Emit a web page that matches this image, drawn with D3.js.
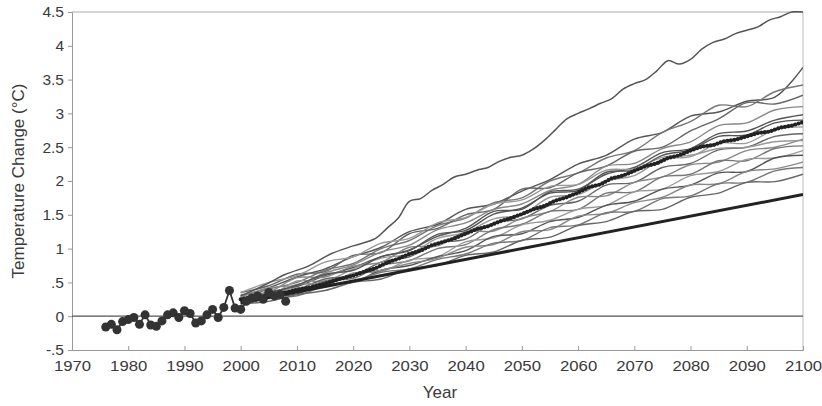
<!DOCTYPE html>
<html><head><meta charset="utf-8">
<script src="https://cdn.jsdelivr.net/npm/d3@7"></script>
<style>
body{margin:0;background:#fff;}
text{font-family:"Liberation Sans",Arial,sans-serif;fill:#3a3a3a;}
</style></head><body>
<svg id="c" width="822" height="406"></svg>
<script>
// ---- data ----
const xTicks = [1970,1980,1990,2000,2010,2020,2030,2040,2050,2060,2070,2080,2090,2100];
const yTicks = [-0.5,0,0.5,1,1.5,2,2.5,3,3.5,4,4.5];
const yTickLabels = ["-.5","0",".5","1","1.5","2","2.5","3","3.5","4","4.5"];

const obsYears = [1976,1977,1978,1979,1980,1981,1982,1983,1984,1985,1986,1987,1988,1989,1990,1991,1992,1993,1994,1995,1996,1997,1998,1999,2000,2001,2002,2003,2004,2005,2006,2007,2008];
const obsValues = [-0.16,-0.12,-0.2,-0.08,-0.05,-0.02,-0.12,0.02,-0.13,-0.15,-0.07,0.02,0.05,-0.02,0.08,0.04,-0.1,-0.07,0.02,0.1,-0.02,0.13,0.38,0.12,0.1,0.22,0.27,0.3,0.25,0.35,0.3,0.32,0.22];

const runYears = [2000,2005,2010,2015,2020,2025,2030,2035,2040,2045,2050,2055,2060,2065,2070,2075,2080,2085,2090,2095,2100];
const run1  = [0.30,0.42,0.58,0.70,0.88,1.02,1.25,1.36,1.58,1.66,1.85,2.02,2.25,2.38,2.62,2.72,2.96,3.02,3.18,3.24,3.68];
const run2  = [0.25,0.40,0.50,0.68,0.78,1.00,1.12,1.34,1.45,1.68,1.75,2.00,2.12,2.34,2.45,2.72,2.88,3.12,3.10,3.32,3.42];
const run3  = [0.35,0.45,0.62,0.66,0.90,0.94,1.22,1.30,1.50,1.58,1.88,1.90,2.12,2.22,2.44,2.50,2.74,2.92,3.16,3.14,3.27];
const run4  = [0.28,0.42,0.46,0.64,0.76,0.95,1.05,1.28,1.38,1.58,1.66,1.86,1.95,2.22,2.26,2.48,2.58,2.82,2.86,3.05,3.10];
const run5  = [0.22,0.36,0.44,0.60,0.72,0.88,0.98,1.18,1.30,1.55,1.58,1.84,1.88,2.10,2.20,2.42,2.48,2.70,2.74,2.90,2.98];
const run6  = [0.30,0.30,0.52,0.52,0.70,0.86,0.92,1.15,1.24,1.44,1.50,1.76,1.80,2.00,2.08,2.32,2.36,2.56,2.56,2.76,2.80];
const run7  = [0.18,0.32,0.40,0.55,0.60,0.80,0.88,1.08,1.14,1.38,1.44,1.64,1.70,1.94,1.98,2.20,2.26,2.46,2.50,2.66,2.70];
const run8  = [0.32,0.36,0.57,0.58,0.74,0.80,1.02,1.04,1.25,1.26,1.45,1.55,1.76,1.78,1.98,2.06,2.24,2.28,2.45,2.50,2.62];
const run9  = [0.20,0.30,0.36,0.52,0.56,0.75,0.82,1.00,1.06,1.28,1.36,1.55,1.58,1.82,1.84,2.06,2.10,2.30,2.30,2.48,2.52];
const run10 = [0.25,0.34,0.42,0.46,0.64,0.66,0.83,0.88,1.10,1.16,1.35,1.42,1.58,1.64,1.84,1.88,2.08,2.14,2.32,2.34,2.45];
const run11 = [0.15,0.27,0.33,0.47,0.50,0.68,0.75,0.88,0.97,1.18,1.22,1.40,1.46,1.64,1.70,1.88,1.94,2.12,2.14,2.34,2.38];
const run12 = [0.28,0.28,0.47,0.48,0.62,0.68,0.78,0.86,1.02,1.06,1.25,1.28,1.48,1.52,1.68,1.76,1.94,1.96,2.14,2.18,2.28];
const run13 = [0.20,0.26,0.30,0.45,0.52,0.65,0.70,0.84,0.92,1.08,1.12,1.31,1.35,1.53,1.55,1.74,1.78,1.96,1.98,2.15,2.20];
const run14 = [0.18,0.22,0.32,0.38,0.50,0.55,0.70,0.75,0.90,0.95,1.12,1.17,1.34,1.40,1.55,1.58,1.76,1.82,1.98,1.99,2.10];
const run15 = [0.35,0.50,0.60,0.80,0.88,1.08,1.15,1.38,1.46,1.66,1.72,1.92,1.95,2.16,2.18,2.35,2.38,2.48,2.50,2.58,2.60];
const run16 = [0.22,0.34,0.46,0.62,0.68,0.88,0.97,1.21,1.27,1.51,1.60,1.82,1.86,2.13,2.16,2.38,2.46,2.66,2.68,2.86,2.90];

const topYears  = [2000,2004,2008,2012,2016,2020,2024,2026,2028,2030,2032,2034,2036,2038,2040,2042,2044,2046,2048,2050,2052,2054,2056,2058,2060,2062,2064,2066,2068,2070,2072,2074,2076,2078,2080,2082,2084,2086,2088,2090,2092,2094,2096,2098,2100];
const topValues = [0.30,0.45,0.62,0.74,0.92,1.04,1.15,1.30,1.45,1.70,1.74,1.86,1.95,2.06,2.10,2.16,2.20,2.29,2.35,2.38,2.47,2.60,2.76,2.92,3.00,3.07,3.15,3.22,3.36,3.44,3.50,3.63,3.78,3.73,3.80,3.95,4.05,4.10,4.18,4.23,4.28,4.38,4.43,4.50,4.50];

const meanYears = d3.range(2000, 2101, 2);
const meanValues = [0.25,0.28,0.29,0.33,0.35,0.39,0.42,0.46,0.51,0.56,0.60,0.66,0.71,0.79,0.85,0.92,0.97,1.05,1.10,1.15,1.22,1.29,1.33,1.40,1.45,1.51,1.58,1.63,1.71,1.76,1.83,1.91,1.95,2.04,2.08,2.15,2.22,2.26,2.34,2.38,2.45,2.51,2.53,2.59,2.61,2.66,2.71,2.73,2.79,2.82,2.87];

const trendYears = [2000,2100];
const trendValues = [0.2,1.8];

const runs = [run1,run2,run3,run4,run5,run6,run7,run8,run9,run10,run11,run12,run13,run14,run15,run16];
const runColors = ["#555","#777","#666","#888","#555","#999","#666","#888","#777","#999","#555","#888","#777","#666","#999","#555"];

// ---- chart ----
const svg = d3.select("#c");
const L=72, R=803, T=12, B=350;
const x = d3.scaleLinear().domain([1970,2100]).range([L,R]);
const y = d3.scaleLinear().domain([-0.5,4.5]).range([B,T]);

svg.append("defs").append("clipPath").attr("id","clip")
  .append("rect").attr("x",L).attr("y",T-1).attr("width",R-L).attr("height",B-T+1);

// frame
svg.append("line").attr("x1",L).attr("x2",R).attr("y1",T).attr("y2",T).attr("stroke","#aaa");
svg.append("line").attr("x1",R).attr("x2",R).attr("y1",T).attr("y2",B).attr("stroke","#bbb");

// axes
const yAxis = d3.axisLeft(y).tickValues(yTicks).tickSize(4).tickFormat((d,i)=>yTickLabels[i]);
const gy = svg.append("g").attr("transform",`translate(${L},0)`).call(yAxis);
gy.select(".domain").attr("stroke","#999");
gy.selectAll(".tick line").attr("stroke","#999");
gy.selectAll(".tick text").attr("font-size",15.5).attr("x",-8).attr("fill","#3a3a3a")
  .attr("font-family","Liberation Sans, Arial, sans-serif");

const xAxis = d3.axisBottom(x).tickValues(xTicks).tickSize(-4).tickFormat(d3.format("d"));
const gx = svg.append("g").attr("transform",`translate(0,${B})`).call(xAxis);
gx.select(".domain").attr("stroke","#999");
gx.selectAll(".tick line").attr("stroke","#999");
gx.selectAll(".tick text").attr("font-size",15.5).attr("y",10).attr("x",0).attr("fill","#3a3a3a")
  .attr("font-family","Liberation Sans, Arial, sans-serif")
  .attr("transform","scale(1.08,1)");

// zero line
svg.append("line").attr("x1",L).attr("x2",R).attr("y1",y(0)).attr("y2",y(0)).attr("stroke","#555").attr("stroke-width",1.2);

const plot = svg.append("g").attr("clip-path","url(#clip)");

const line = d3.line().curve(d3.curveCatmullRom.alpha(0.5));

runs.forEach((r,i)=>{
  plot.append("path")
    .attr("d", line(runYears.map((yr,j)=>[x(yr), y(r[j])])))
    .attr("fill","none").attr("stroke",runColors[i]).attr("stroke-width",1.4);
});

plot.append("path")
  .attr("d", d3.line().curve(d3.curveCatmullRom)(topYears.map((yr,j)=>[x(yr), y(topValues[j])])))
  .attr("fill","none").attr("stroke","#555").attr("stroke-width",1.5);

// trend line
plot.append("path")
  .attr("d", d3.line()(trendYears.map((yr,j)=>[x(yr), y(trendValues[j])])))
  .attr("fill","none").attr("stroke","#222").attr("stroke-width",3);

// mean line
const meanPath = d3.line().curve(d3.curveLinear)(meanYears.map((yr,j)=>[x(yr), y(meanValues[j])]));
plot.append("path").attr("d",meanPath).attr("fill","none").attr("stroke","#333").attr("stroke-width",2.2);
plot.append("path").attr("d",meanPath).attr("fill","none").attr("stroke","#222").attr("stroke-width",4.2)
  .attr("stroke-linecap","round").attr("stroke-dasharray","0 3.5");

// observations
plot.append("path")
  .attr("d", d3.line()(obsYears.map((yr,j)=>[x(yr), y(obsValues[j])])))
  .attr("fill","none").attr("stroke","#333").attr("stroke-width",1.8);
plot.selectAll("circle.obs").data(obsYears).enter().append("circle")
  .attr("cx",d=>x(d)).attr("cy",(d,i)=>y(obsValues[i])).attr("r",4.5).attr("fill","#333");

// titles
svg.append("text").attr("x",440).attr("y",398).attr("text-anchor","middle").attr("font-size",17).text("Year");
svg.append("text").attr("transform","translate(24,181) rotate(-90)").attr("text-anchor","middle").attr("font-size",17).text("Temperature Change (°C)");
</script></body></html>
